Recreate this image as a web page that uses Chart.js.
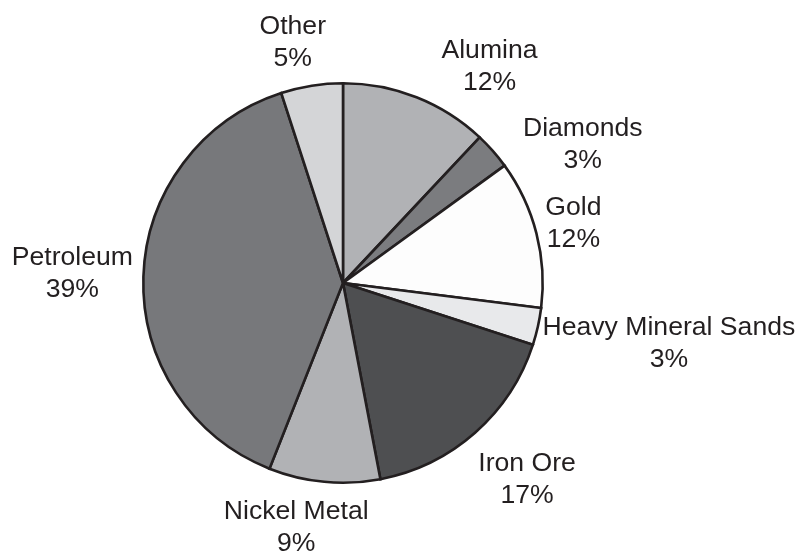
<!DOCTYPE html>
<html>
<head>
<meta charset="utf-8">
<script src="https://cdn.jsdelivr.net/npm/chart.js@4/dist/chart.umd.min.js"></script>
<style>
  html, body { margin: 0; padding: 0; background: #ffffff; }
  #wrap { width: 805px; height: 556px; position: relative; }
</style>
</head>
<body>
<div id="wrap"><canvas id="pie"></canvas></div>
<script>
// Export shares by commodity (percent)
const commodities = ['Alumina', 'Diamonds', 'Gold', 'Heavy Mineral Sands', 'Iron Ore', 'Nickel Metal', 'Petroleum', 'Other'];
const shares = [12, 3, 12, 3, 17, 9, 39, 5];

// Slice fills, grey scale
const sliceColors = ['#b1b2b5', '#7b7c7f', '#fdfdfd', '#e8e9eb', '#4e4f51', '#b1b2b5', '#77787b', '#d4d5d7'];

// Label offset from the rim point at each slice's mid-angle (px)
const labelNudge = [[73, -39], [90, -15], [37, -18], [131, 8], [52, 38], [-28, 37], [-71, -12], [-19, -52]];

const ink = '#231f20';
const labelFont = '26.6px "Liberation Sans", Arial, sans-serif';
const lineGap = 32;

const sliceLabels = {
  id: 'sliceLabels',
  afterDatasetsDraw(chart) {
    const ctx = chart.ctx;
    const meta = chart.getDatasetMeta(0);
    ctx.save();
    ctx.font = labelFont;
    ctx.fillStyle = ink;
    ctx.textAlign = 'center';
    ctx.textBaseline = 'alphabetic';
    meta.data.forEach((arc, i) => {
      const p = arc.getProps(['x', 'y', 'startAngle', 'endAngle', 'outerRadius'], true);
      const mid = (p.startAngle + p.endAngle) / 2;
      const rx = p.x + Math.cos(mid) * p.outerRadius;
      const ry = p.y + Math.sin(mid) * p.outerRadius;
      const x = rx + labelNudge[i][0];
      const y = ry + labelNudge[i][1];
      ctx.fillText(commodities[i], x, y);
      ctx.fillText(shares[i] + '%', x, y + lineGap);
    });
    ctx.restore();
  }
};

new Chart(document.getElementById('pie'), {
  type: 'pie',
  data: {
    labels: commodities,
    datasets: [{
      data: shares,
      backgroundColor: sliceColors,
      borderColor: ink,
      borderWidth: 2.6,
      borderJoinStyle: 'miter'
    }]
  },
  options: {
    responsive: true,
    maintainAspectRatio: false,
    animation: false,
    layout: { padding: { left: 142, right: 261, top: 82, bottom: 72 } },
    plugins: {
      legend: { display: false },
      tooltip: { enabled: false }
    }
  },
  plugins: [sliceLabels]
});
</script>
</body>
</html>
